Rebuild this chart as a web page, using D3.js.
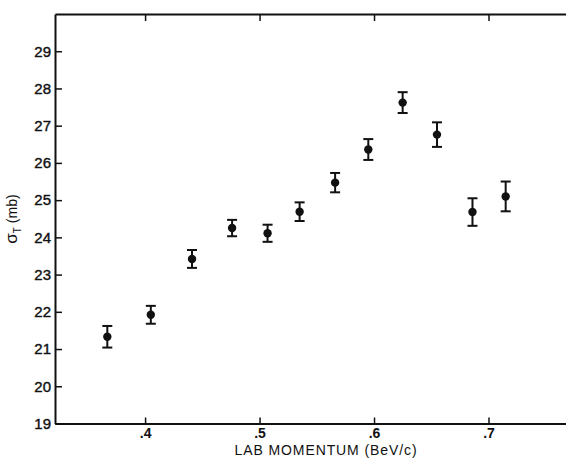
<!DOCTYPE html>
<html>
<head>
<meta charset="utf-8">
<script src="https://cdn.jsdelivr.net/npm/d3@7"></script>
<style>
  body { margin: 0; background: #fff; }
  text { font-family: "Liberation Sans", Arial, sans-serif; fill: #111; }
</style>
</head>
<body>
<div id="chart"></div>
<script>
// lab momentum (BeV/c), total cross section (mb), error (mb)
var momentum = [0.367, 0.405, 0.441, 0.476, 0.507, 0.535, 0.566, 0.595, 0.625, 0.655, 0.686, 0.715];
var sigma    = [21.33, 21.92, 23.42, 24.25, 24.11, 24.69, 25.47, 26.36, 27.62, 26.76, 24.68, 25.10];
var sigmaErr = [0.29, 0.24, 0.24, 0.22, 0.23, 0.25, 0.26, 0.28, 0.28, 0.33, 0.37, 0.40];
var xTicks = [0.4, 0.5, 0.6, 0.7];
var yTicks = [19, 20, 21, 22, 23, 24, 25, 26, 27, 28, 29];

var chart = {
    svgWidth: 566,
    svgHeight: 459,
    left: 55,
    right: 566,
    top: 14,
    bottom: 423.5
};

var svg = d3.select("#chart").append("svg")
    .attr("width", chart.svgWidth)
    .attr("height", chart.svgHeight);

var x = d3.scaleLinear().domain([0.3213, 0.7677]).range([chart.left, chart.right]);
var y = d3.scaleLinear().domain([19, 30]).range([chart.bottom, chart.top]);

var fmtX = function(d) { return d3.format(".1f")(d).replace(/^0/, ""); };

// bottom axis, ticks pointing inward
svg.append("g")
    .attr("transform", "translate(0," + chart.bottom + ")")
    .call(d3.axisBottom(x).tickValues(xTicks).tickSizeInner(-6).tickSizeOuter(0).tickPadding(5).tickFormat(fmtX))
    .call(g => g.select(".domain").attr("stroke", "#111").attr("stroke-width", 2))
    .call(g => g.selectAll(".tick line").attr("stroke", "#111").attr("stroke-width", 1.5))
    .call(g => g.selectAll(".tick text").attr("font-size", 14).attr("font-weight", "bold").attr("dy", "0.71em"));

// top axis, ticks only
svg.append("g")
    .attr("transform", "translate(0," + chart.top + ")")
    .call(d3.axisTop(x).tickValues(xTicks).tickSizeInner(-7).tickSizeOuter(0).tickFormat(""))
    .call(g => g.select(".domain").attr("stroke", "#111").attr("stroke-width", 2))
    .call(g => g.selectAll(".tick line").attr("stroke", "#111").attr("stroke-width", 1.5));

// left axis
svg.append("g")
    .attr("transform", "translate(" + chart.left + ",0)")
    .call(d3.axisLeft(y).tickValues(yTicks).tickSizeInner(-7).tickSizeOuter(0).tickPadding(5).tickFormat(d3.format("d")))
    .call(g => g.select(".domain").attr("stroke", "#111").attr("stroke-width", 2))
    .call(g => g.selectAll(".tick line").attr("stroke", "#111").attr("stroke-width", 1.5))
    .call(g => g.selectAll(".tick text").attr("font-size", 15).attr("x", -4)
        .attr("stroke", "#111").attr("stroke-width", 0.4));

// axis titles
svg.append("text")
    .attr("x", 326)
    .attr("y", 455)
    .attr("text-anchor", "middle")
    .attr("font-size", 14)
    .attr("letter-spacing", 0.9)
    .text("LAB MOMENTUM (BeV/c)");

var yTitle = svg.append("text")
    .attr("transform", "translate(17,219) rotate(-90)")
    .attr("text-anchor", "middle")
    .attr("font-size", 14);
yTitle.append("tspan").attr("font-size", 17).text("σ");
yTitle.append("tspan").attr("font-size", 10).attr("dy", 4).text("T");
yTitle.append("tspan").attr("dy", -4).text(" (mb)");

// points with error bars
var pts = momentum.map((m, i) => ({p: m, s: sigma[i], e: sigmaErr[i]}));
var cap = 5;

var g = svg.selectAll(".pt")
    .data(pts)
    .enter()
    .append("g")
    .attr("class", "pt");

g.append("line")
    .attr("x1", d => x(d.p)).attr("x2", d => x(d.p))
    .attr("y1", d => y(d.s + d.e)).attr("y2", d => y(d.s - d.e))
    .attr("stroke", "#111").attr("stroke-width", 2);

g.append("line")
    .attr("x1", d => x(d.p) - cap).attr("x2", d => x(d.p) + cap)
    .attr("y1", d => y(d.s + d.e)).attr("y2", d => y(d.s + d.e))
    .attr("stroke", "#111").attr("stroke-width", 2);

g.append("line")
    .attr("x1", d => x(d.p) - cap).attr("x2", d => x(d.p) + cap)
    .attr("y1", d => y(d.s - d.e)).attr("y2", d => y(d.s - d.e))
    .attr("stroke", "#111").attr("stroke-width", 2);

g.append("circle")
    .attr("cx", d => x(d.p))
    .attr("cy", d => y(d.s))
    .attr("r", 4.2)
    .attr("fill", "#111");
</script>
</body>
</html>
